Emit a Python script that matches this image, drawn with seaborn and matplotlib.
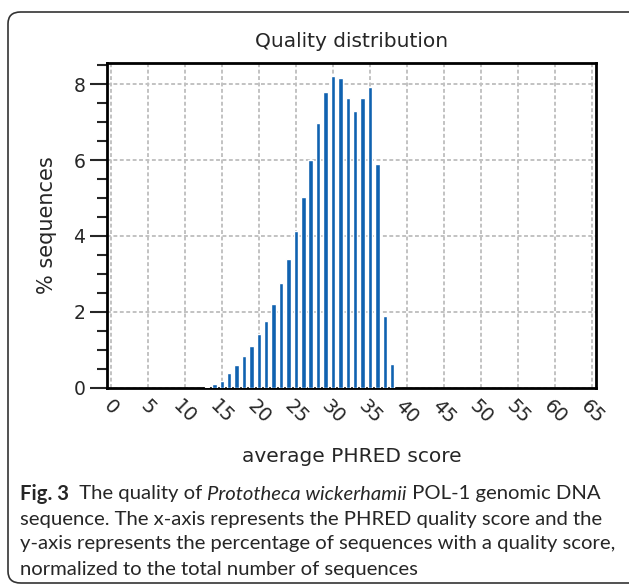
import numpy as np
import pandas as pd
import matplotlib
matplotlib.use("Agg")
import matplotlib.pyplot as plt
import seaborn as sns
from matplotlib.patches import FancyBboxPatch
from matplotlib.ticker import MultipleLocator

# Data
scores = list(range(13, 39))
pct_sequences = [0.03, 0.09, 0.17, 0.38, 0.61, 0.85, 1.11, 1.42, 1.77, 2.21,
                 2.75, 3.39, 4.13, 5.03, 5.99, 6.97, 7.78, 8.22, 8.16, 7.63,
                 7.28, 7.62, 7.93, 5.90, 1.90, 0.63]
xticks = list(range(0, 70, 5))
yticks = [0, 2, 4, 6, 8]

df = pd.DataFrame({"score": scores, "pct": pct_sequences})

sns.set_style("white")
plt.rcParams["font.family"] = ["DejaVu Sans"]

fig = plt.figure(figsize=(6.29, 5.85), dpi=100)
ax = fig.add_axes([0.170, 0.337, 0.7775, 0.555])

sns.barplot(data=df, x="score", y="pct", native_scale=True, width=0.6,
            color="#1062b0", saturation=1, ax=ax, zorder=3)

ax.set_xlim(-0.5, 65.5)
ax.set_ylim(0, 8.55)
ax.set_xticks(xticks)
ax.set_xticklabels([str(t) for t in xticks], rotation=-45, ha="center", fontsize=14)
ax.set_yticks(yticks)
ax.yaxis.set_minor_locator(MultipleLocator(0.5))
ax.tick_params(axis="y", which="major", length=12, width=1.5, labelsize=13.5, direction="out", left=True)
ax.tick_params(axis="y", which="minor", length=7, width=1.5, direction="out", left=True)
ax.tick_params(axis="x", which="both", length=0, pad=6)

ax.grid(True, which="major", color="#c2c2c2", linestyle=(0, (2, 1.3)), linewidth=1.4, zorder=0)
ax.set_axisbelow(True)
for sp in ax.spines.values():
    sp.set_visible(True)
    sp.set_color("black")
    sp.set_linewidth(2)

ax.set_title("Quality distribution", fontsize=14.5, pad=12)
ax.set_xlabel("average PHRED score", fontsize=14.5, labelpad=14)
ax.set_ylabel("% sequences", fontsize=15, labelpad=12)

# rounded frame round the figure
frame = FancyBboxPatch((8 / 629, 2 / 585), 640 / 629, 571 / 585,
                       boxstyle="round,pad=0,rounding_size=0.02",
                       transform=fig.transFigure, fill=False,
                       edgecolor="#333333", linewidth=1.2, clip_on=False)
fig.patches.append(frame)

# caption, drawn piece by piece so bold and italic can share a line
cap_font = ["Lato", "DejaVu Sans"]
cap_size = 14.6
lines = [
    [("Fig. 3", "bold", "normal"), ("  The quality of ", "normal", "normal"),
     ("Prototheca wickerhamii", "normal", "italic"), (" POL-1 genomic DNA", "normal", "normal")],
    [("sequence. The x-axis represents the PHRED quality score and the", "normal", "normal")],
    [("y-axis represents the percentage of sequences with a quality score,", "normal", "normal")],
    [("normalized to the total number of sequences", "normal", "normal")],
]
line_y = [494, 519, 544, 569]

fig.canvas.draw()
renderer = fig.canvas.get_renderer()
for pieces, y in zip(lines, line_y):
    x = 20 / 629
    for txt, weight, style in pieces:
        t = fig.text(x, 1 - y / 585, txt, family=cap_font, fontsize=cap_size,
                     fontweight=weight, fontstyle=style, va="center", ha="left")
        bb = t.get_window_extent(renderer=renderer)
        x += bb.width / fig.bbox.width

fig.savefig("out.png", dpi=100)
